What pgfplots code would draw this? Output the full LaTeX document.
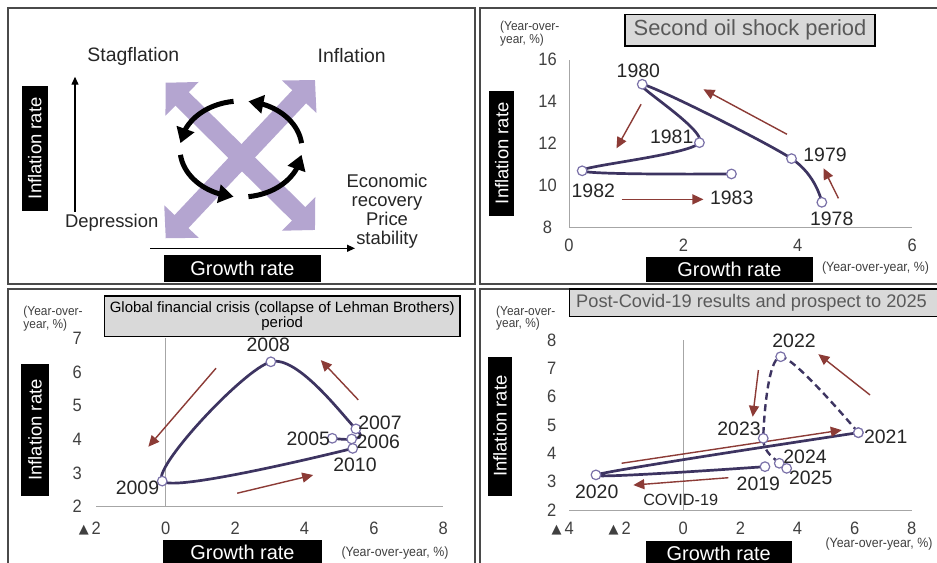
\documentclass[border=0pt]{standalone}
\usepackage{fontspec}
\setmainfont{Liberation Sans}
\newfontfamily\narrow[FakeStretch=0.92]{Liberation Sans}
\newfontfamily\dejavu{DejaVu Sans}
\usepackage{pgfplots}
\pgfplotsset{compat=1.18}
\usetikzlibrary{arrows.meta,bending}

\definecolor{pathc}{HTML}{3D3461}
\definecolor{markc}{HTML}{7A71A8}
\definecolor{arrc}{HTML}{8C3B36}
\definecolor{axc}{HTML}{A6A6A6}
\definecolor{tickc}{HTML}{404040}
\definecolor{lav}{HTML}{B4A5D0}
\definecolor{boxg}{HTML}{D9D9D9}
\definecolor{titg}{HTML}{595959}
\definecolor{framec}{HTML}{4A4A4A}
\definecolor{yearc}{HTML}{262626}

\newcommand\fsz[1]{\fontsize{#1}{#1}\selectfont}
\newcommand\negtick[1]{\llap{\dejavu\fsz{13}\raisebox{0.5bp}{▲}\hspace{3bp}}#1}

\tikzset{flowarr/.style={arrc, line width=1.4bp, -{Triangle[width=10bp,length=11bp]}}}

\pgfplotsset{
  panel/.style={
    scale only axis, clip=false, anchor=south west,
    axis x line=bottom, axis y line=left,
    axis line style={draw=axc, line width=1bp, -},
    major tick length=0pt,
    tick label style={font=\narrow\fsz{18}, text=tickc, inner sep=0.5bp},
    /pgf/number format/assume math mode=true,
  },
  traj/.style={pathc, line width=2.7bp, smooth, tension=0.5, mark=*, mark size=4.8bp,
    mark options={solid, fill=white, draw=markc, line width=1.2bp}},
}

\begin{document}
\begin{tikzpicture}[x=1bp, y=-1bp]
\useasboundingbox (0,0) rectangle (937,563);
\fill[white] (0,0) rectangle (937,563);

% ---------------- panel frames ----------------
\begin{scope}[framec, line width=1.6bp]
  \draw (8,8) rectangle (475,284.2);
  \draw (480,8) rectangle (945,284.2);
  \draw (8,288.8) rectangle (475,570);
  \draw (480,288.8) rectangle (945,570);
\end{scope}

% ---------------- schematic: business-cycle phases ----------------
\draw[lav, line width=19bp, {Triangle[width=46bp,length=23bp]}-{Triangle[width=46bp,length=23bp]}]
  (165.7,238.3) -- (315,80);
\draw[lav, line width=19bp, {Triangle[width=46bp,length=23bp]}-{Triangle[width=46bp,length=23bp]}]
  (165.7,82.7) -- (315,230);
\begin{scope}[line width=5bp, -{Triangle[width=18bp,length=15bp]}]
  \draw ([shift={(263:61 and 48)}]241,149) arc[start angle=263, end angle=187, x radius=61, y radius=48];
  \draw ([shift={(173:61 and 48)}]241,149) arc[start angle=173, end angle=97, x radius=61, y radius=48];
  \draw ([shift={(83:61 and 48)}]241,149) arc[start angle=83, end angle=7, x radius=61, y radius=48];
  \draw ([shift={(353:61 and 48)}]241,149) arc[start angle=353, end angle=277, x radius=61, y radius=48];
\end{scope}
\draw[line width=1.2bp, -{Triangle[width=7bp,length=8bp]}] (75,211.7) -- (75,76.7);
\draw[line width=1.2bp, -{Triangle[width=7bp,length=8bp]}] (150,248.3) -- (355,248.3);
\node[font=\fsz{19.5}, text=yearc] at (133.3,56.7) {Stagflation};
\node[font=\fsz{19.5}, text=yearc] at (351.7,56) {Inflation};
\node[font=\fsz{18.5}, text=yearc] at (111.7,222.7) {Depression};
\node[font=\fontsize{18.5}{19}\selectfont, text=yearc, align=center] at (387,211)
  {Economic\\recovery\\Price\\stability};
\node[fill=black, text=white, rotate=90, minimum width=124.7bp, minimum height=26bp,
  inner sep=0pt, font=\fsz{18.5}] at (34.7,148.3) {Inflation rate};
\node[fill=black, text=white, minimum width=156.4bp, minimum height=26.7bp,
  inner sep=0pt, font=\fsz{20}] at (242.5,268.3) {Growth rate};

% ---------------- second oil shock ----------------
\begin{axis}[panel, at={(569bp,-227.5bp)}, width=343.2bp, height=168bp,
  xmin=0, xmax=6, ymin=8, ymax=16, xtick={0,2,4,6}, ytick={8,10,...,16},
  xticklabel style={anchor=center, yshift=-17.5bp},
  yticklabel style={anchor=center, xshift=-21.5bp}]
  \addplot[traj] coordinates {
    (4.42,9.20) (3.89,11.28) (1.28,14.82) (2.28,12.04) (0.23,10.70) (2.84,10.55)};
  \draw[flowarr] (axis cs:3.81,12.44) -- (axis cs:2.35,14.58);
  \draw[flowarr] (axis cs:1.26,13.87) -- (axis cs:0.83,11.77);
  \draw[flowarr] (axis cs:0.92,9.34) -- (axis cs:2.35,9.34);
  \draw[flowarr] (axis cs:4.71,9.39) -- (axis cs:4.45,10.82);
\end{axis}
\begin{scope}[font=\fsz{19.5}, text=yearc]
  \node at (638.3,70.7) {1980};
  \node at (671.7,136.7) {1981};
  \node at (825,155) {1979};
  \node at (831.7,219.3) {1978};
  \node at (593.3,190.7) {1982};
  \node at (731.7,198.3) {1983};
\end{scope}
\node[draw=black, line width=1.2bp, fill=boxg, text=titg, minimum width=250bp,
  minimum height=31.7bp, inner sep=0pt, font=\fsz{22}] at (750,30.2) {Second oil shock period};
\node[anchor=north west, align=left, inner sep=0pt, text=tickc,
  font=\narrow\fontsize{13}{12.5}\selectfont] at (500,21) {(Year-over-\\year, \%)};
\node[fill=black, text=white, rotate=90, minimum width=125.3bp, minimum height=25.3bp,
  inner sep=0pt, font=\fsz{18.5}] at (501.7,153.3) {Inflation rate};
\node[fill=black, text=white, minimum width=167.6bp, minimum height=25bp,
  inner sep=0pt, font=\fsz{20}] at (729.5,269.2) {Growth rate};
\node[text=tickc, font=\narrow\fsz{13.5}] at (875.5,268) {(Year-over-year, \%)};

% ---------------- global financial crisis ----------------
\begin{axis}[panel, at={(96.3bp,-506.7bp)}, width=347bp, height=168.5bp,
  xmin=-2, xmax=8, ymin=2, ymax=7, xtick={-2,0,...,8},
  xticklabels={\negtick{2},0,2,4,6,8}, ytick={2,...,7},
  y axis line style={draw=none},
  xticklabel style={anchor=center, yshift=-22bp},
  yticklabel style={anchor=center, xshift=-19bp}]
  \draw[axc, line width=1bp] (axis cs:0,2) -- (axis cs:0,7);
  \addplot[traj] coordinates {
    (4.80,4.03) (5.36,4.01) (5.48,4.31) (3.03,6.30) (-0.10,2.76) (5.39,3.73)};
  \draw[flowarr] (axis cs:5.55,5.17) -- (axis cs:4.47,6.35);
  \draw[flowarr] (axis cs:1.45,6.11) -- (axis cs:-0.50,3.78);
  \draw[flowarr] (axis cs:2.06,2.40) -- (axis cs:4.25,2.94);
\end{axis}
\begin{scope}[font=\fsz{19.5}, text=yearc]
  \node at (268.3,345) {2008};
  \node at (380,423.3) {2007};
  \node at (308.3,439) {2005};
  \node at (378.3,441.7) {2006};
  \node at (355,465) {2010};
  \node at (137.5,488.3) {2009};
\end{scope}
\node[draw=black, line width=1.2bp, fill=boxg, minimum width=355.7bp, minimum height=40.7bp,
  inner sep=0pt, align=center, font=\fontsize{15}{14.5}\selectfont] at (282.2,316.3)
  {Global financial crisis (collapse of Lehman Brothers)\\period};
\node[anchor=north west, align=left, inner sep=0pt, text=tickc,
  font=\narrow\fontsize{13}{12.5}\selectfont] at (23.3,306) {(Year-over-\\year, \%)};
\node[fill=black, text=white, rotate=90, minimum width=131.4bp, minimum height=28bp,
  inner sep=0pt, font=\fsz{18.5}] at (35,430) {Inflation rate};
\node[fill=black, text=white, minimum width=158.4bp, minimum height=25bp,
  inner sep=0pt, font=\fsz{20}] at (242.5,552.5) {Growth rate};
\node[text=tickc, font=\narrow\fsz{13.5}] at (395,553.3) {(Year-over-year, \%)};

% ---------------- post-Covid-19 ----------------
\begin{axis}[panel, at={(569.1bp,-510bp)}, width=342.6bp, height=170bp,
  xmin=-4, xmax=8, ymin=2, ymax=8, xtick={-4,-2,...,8},
  xticklabels={\negtick{4},\negtick{2},0,2,4,6,8}, ytick={2,...,8},
  y axis line style={draw=none},
  xticklabel style={anchor=center, yshift=-18.5bp},
  yticklabel style={anchor=center, xshift=-17.4bp}]
  \draw[axc, line width=1bp] (axis cs:0,2) -- (axis cs:0,8);
  \addplot[traj] coordinates {(2.86,3.53) (-3.06,3.24) (6.13,4.73)};
  \addplot[traj, line width=2.4bp, dash pattern=on 7bp off 4.5bp] coordinates {
    (6.13,4.73) (3.41,7.41) (2.80,4.53) (3.36,3.65) (3.62,3.47)};
  \draw[flowarr] (axis cs:-2.16,3.65) -- (axis cs:5.55,4.82);
  \draw[flowarr] (axis cs:1.58,3.14) -- (axis cs:-1.75,2.88);
  \draw[flowarr] (axis cs:6.54,6.06) -- (axis cs:4.73,7.50);
  \draw[flowarr] (axis cs:2.63,6.94) -- (axis cs:2.43,5.29);
\end{axis}
\begin{scope}[font=\fsz{19.5}, text=yearc]
  \node at (794,341) {2022};
  \node at (885.7,436.7) {2021};
  \node at (739,429) {2023};
  \node at (805,456.7) {2024};
  \node at (810.7,478.3) {2025};
  \node at (758.3,484.3) {2019};
  \node at (596.7,492.3) {2020};
\end{scope}
\node[font=\fsz{16.3}, text=yearc] at (680.7,500) {COVID-19};
\draw[black, line width=1.2bp, fill=boxg] (569.3,289) rectangle (945,316.7);
\node[anchor=west, inner sep=0pt, text=titg, font=\fsz{18.3}] at (576,303)
  {Post-Covid-19 results and prospect to 2025};
\node[anchor=north west, align=left, inner sep=0pt, text=tickc,
  font=\narrow\fontsize{13}{12.5}\selectfont] at (496,305.7) {(Year-over-\\year, \%)};
\node[fill=black, text=white, rotate=90, minimum width=139bp, minimum height=23.4bp,
  inner sep=0pt, font=\fsz{18.5}] at (500,426.2) {Inflation rate};
\node[fill=black, text=white, minimum width=146bp, minimum height=24bp,
  inner sep=0pt, font=\fsz{20}] at (718.7,553) {Growth rate};
\node[text=tickc, inner sep=0.5bp, font=\narrow\fsz{13.5}] at (879,544) {(Year-over-year, \%)};
\end{tikzpicture}
\end{document}
